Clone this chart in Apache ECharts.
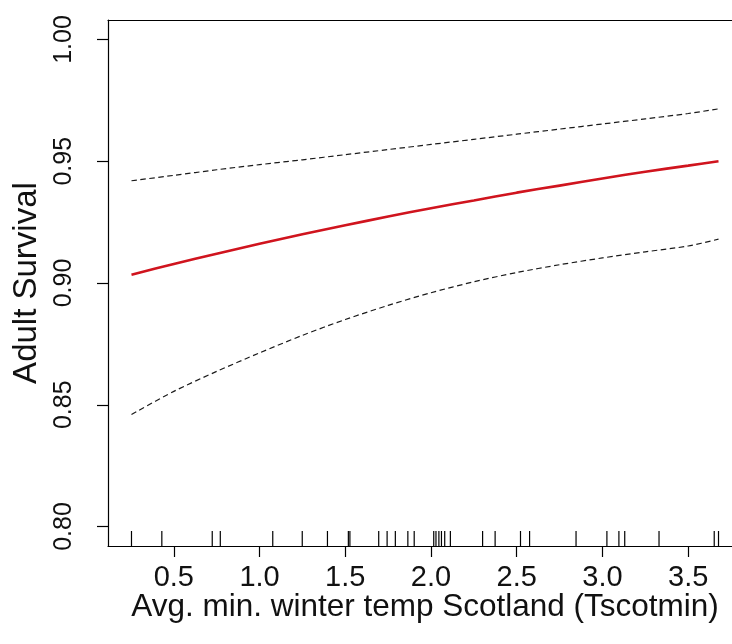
<!DOCTYPE html>
<html>
<head>
<meta charset="utf-8">
<title>Adult Survival vs Tscotmin</title>
<script src="https://cdn.jsdelivr.net/npm/echarts@6/dist/echarts.min.js"></script>
<style>
html, body { margin: 0; padding: 0; background: #fff; overflow: hidden; }
#chart { width: 732px; height: 644px; }
</style>
</head>
<body>
<div id="chart"></div>
<script>
// values
var tempX     = [0.253, 0.5, 0.75, 1.0, 1.25, 1.5, 1.75, 2.0, 2.25, 2.5, 2.75, 3.0, 3.25, 3.5, 3.677];
var survFit   = [0.9034, 0.9078, 0.9120, 0.9161, 0.9200, 0.9237, 0.9273, 0.9307, 0.9339, 0.9371, 0.9400, 0.9429, 0.9457, 0.9482, 0.9500];
var survUpper = [0.9420, 0.9442, 0.9465, 0.9486, 0.9506, 0.9527, 0.9548, 0.9569, 0.9590, 0.9611, 0.9632, 0.9653, 0.9674, 0.9696, 0.9715];
var survLower = [0.8460, 0.8555, 0.8637, 0.8713, 0.8785, 0.8850, 0.8908, 0.8960, 0.9005, 0.9043, 0.9075, 0.9103, 0.9128, 0.9152, 0.9180];
var rugTemps  = [0.253, 0.430, 0.724, 0.771, 1.077, 1.249, 1.396, 1.518, 1.527, 1.695, 1.744, 1.792,
                 1.865, 1.902, 2.016, 2.029, 2.046, 2.061, 2.080, 2.113, 2.301, 2.374, 2.522, 2.575,
                 2.846, 3.026, 3.096, 3.130, 3.330, 3.652, 3.677];
var xTicks = [0.5, 1.0, 1.5, 2.0, 2.5, 3.0, 3.5];
var yTicks = [0.80, 0.85, 0.90, 0.95, 1.00];

sv = {
    chart : null,
    font : "'Liberation Sans', Arial, sans-serif",
    xRange : [0.116, 3.814],
    yRange : [0.792, 1.008],
    rugLen : 15,
    frame : { color: '#000', width: 1.2 }
}

function pairs(xs, ys) {
    var out = [];
    for (var i = 0; i < xs.length; i++) {
        out.push([xs[i], ys[i]]);
    }
    return out;
}

function curve(name, ys, style, z) {
    return {
        name : name,
        type : 'line',
        data : pairs(tempX, ys),
        smooth : 0.3,
        symbol : 'none',
        silent : true,
        lineStyle : style,
        z : z
    };
}

function buildOption() {
    return {
        animation : false,
        backgroundColor : '#fff',
        grid : {
            left : 108, top : 20, right : -10, bottom : 98,
            show : false, containLabel : false, outerBoundsMode : 'none'
        },
        xAxis : [{
            type : 'value',
            min : sv.xRange[0], max : sv.xRange[1],
            name : 'Avg. min. winter temp Scotland (Tscotmin)',
            nameLocation : 'middle',
            nameGap : 45,
            nameMoveOverlap : false,
            nameTextStyle : { fontFamily: sv.font, fontSize: 31.5, color: '#111' },
            axisLine : { show: true, onZero: false, lineStyle: sv.frame },
            axisTick : { show: true, customValues: xTicks, length: 11, inside: false, lineStyle: sv.frame },
            axisLabel : { customValues: xTicks, margin: 17, fontFamily: sv.font, fontSize: 29, color: '#111',
                          formatter: function (v) { return v.toFixed(1); } },
            splitLine : { show: false }
        }, {
            // top side of the box
            type : 'value',
            position : 'top',
            min : sv.xRange[0], max : sv.xRange[1],
            axisLine : { show: true, onZero: false, lineStyle: sv.frame },
            axisTick : { show: false },
            axisLabel : { show: false },
            splitLine : { show: false }
        }],
        yAxis : {
            type : 'value',
            min : sv.yRange[0], max : sv.yRange[1],
            name : 'Adult Survival',
            nameLocation : 'middle',
            nameRotate : 90,
            nameGap : 65,
            nameMoveOverlap : false,
            nameTextStyle : { fontFamily: sv.font, fontSize: 33, color: '#111' },
            axisLine : { show: true, onZero: false, lineStyle: sv.frame },
            axisTick : { show: true, customValues: yTicks, length: 11, inside: false, lineStyle: sv.frame },
            axisLabel : { customValues: yTicks, rotate: 90, margin: 31, fontFamily: sv.font, fontSize: 25, color: '#111',
                          formatter: function (v) { return v.toFixed(2); } },
            splitLine : { show: false }
        },
        series : [
            curve('upper', survUpper, { color: '#1a1a1a', width: 1.2, type: [5.5, 3.5] }, 3),
            curve('lower', survLower, { color: '#1a1a1a', width: 1.2, type: [5.5, 3.5] }, 3),
            curve('fit', survFit, { color: '#d0141e', width: 2.6 }, 4),
            {
                name : 'rug',
                type : 'custom',
                data : rugTemps.map(function (t) { return [t, sv.yRange[0]]; }),
                encode : { x: 0, y: 1 },
                silent : true,
                renderItem : function (params, api) {
                    var p = api.coord([api.value(0), api.value(1)]);
                    return {
                        type : 'line',
                        shape : { x1: p[0], y1: p[1], x2: p[0], y2: p[1] - sv.rugLen },
                        style : { stroke: '#000', lineWidth: 1.2 }
                    };
                },
                z : 5
            }
        ]
    };
}

function init() {
    sv.chart = echarts.init(document.getElementById('chart'), null, { renderer: 'canvas' });
    sv.chart.setOption(buildOption());
}

init();
</script>
</body>
</html>
